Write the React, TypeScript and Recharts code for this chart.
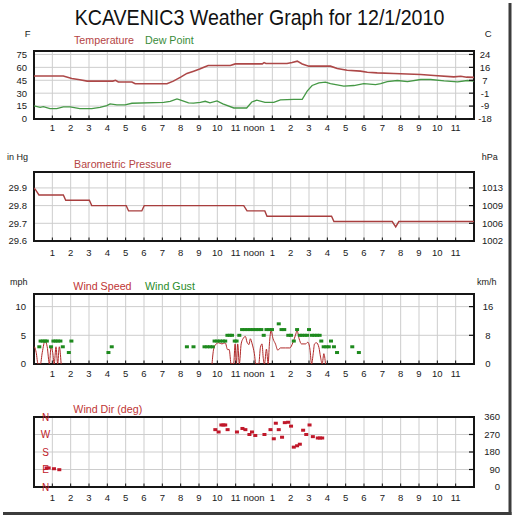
import React from 'react';
import { ComposedChart, Line, Scatter, XAxis, YAxis, CartesianGrid, ReferenceArea } from 'recharts';

const FONT = '"Liberation Sans", Arial, sans-serif';

// ---- axis ticks / labels ----
const hourTicks = [1, 2, 3, 4, 5, 6, 7, 8, 9, 10, 11, 12, 13, 14, 15, 16, 17, 18, 19, 20, 21, 22, 23];
const hourLabels = ['1', '2', '3', '4', '5', '6', '7', '8', '9', '10', '11', 'noon', '1', '2', '3', '4', '5', '6', '7', '8', '9', '10', '11'];

const fTicks = [0, 15, 30, 45, 60, 75];
const fLabels = ['0', '15', '30', '45', '60', '75'];
const cLabels = ['-18', '-9', '-1', '7', '16', '24'];

const inHgTicks = [29.6, 29.7, 29.8, 29.9];
const inHgLabels = ['29.6', '29.7', '29.8', '29.9'];
const hPaLabels = ['1002', '1006', '1009', '1013'];

const mphTicks = [0, 5, 10];
const mphLabels = ['0', '5', '10'];
const kmhLabels = ['0', '8', '16'];

const dirTicks = [0, 90, 180, 270, 360];
const dirLetters = ['N', 'E', 'S', 'W', 'N'];
const degLabels = ['0', '90', '180', '270', '360'];

// ---- series ----
const tempHours = [0, 1.6, 2.06, 2.5, 2.9, 4.3, 4.45, 4.6, 5.34, 5.52, 7.25, 7.6, 8.0, 8.34, 8.71, 9.07, 9.3, 9.5, 10.71, 10.98, 12.45, 12.55, 12.65, 13.8, 14.08, 14.36, 14.63, 14.99, 16.17, 16.54, 17.08, 17.81, 18.18, 18.72, 19.63, 21.09, 21.82, 22.9, 23.28, 23.6, 24];
const tempValues = [50, 50, 47, 45.5, 44, 44, 45, 43, 43, 41, 41, 44, 48.6, 53, 55.6, 58.3, 60.5, 62.2, 62.2, 64, 64, 65.5, 64.5, 64.5, 65.7, 67.2, 64, 61.4, 61.4, 58.7, 56.7, 55.6, 54.4, 53.6, 52.9, 51.7, 50.5, 49, 49.7, 48.6, 48.3];

const dewHours = [0, 0.33, 0.51, 0.87, 1.24, 1.6, 1.97, 2.5, 3.15, 3.6, 3.97, 4.15, 4.52, 4.97, 5.34, 7.07, 7.43, 7.8, 8.0, 8.43, 8.7, 9.07, 9.34, 9.6, 9.98, 10.3, 10.9, 11.6, 11.88, 12.15, 12.6, 13.08, 13.44, 14.17, 14.63, 14.9, 15.17, 15.54, 15.9, 16.17, 16.9, 17.45, 17.99, 18.63, 18.91, 19.27, 19.82, 20.37, 21.09, 21.64, 22.37, 23.1, 23.64, 24];
const dewValues = [15.2, 13.6, 14.4, 12, 12, 14, 14, 12, 12, 13.6, 15.5, 17.5, 16.3, 16.3, 18.3, 19.4, 20.6, 23.3, 22, 18.7, 18.5, 19.4, 20.6, 18.7, 21, 17.5, 12.8, 12.8, 19.8, 21.8, 19.4, 19.4, 22.2, 22.9, 22.9, 32.3, 38.9, 42, 42.8, 41.2, 38.1, 38.9, 41.2, 40, 41.2, 43.5, 44.7, 43.5, 45.9, 45.9, 44.3, 43.1, 44.7, 43.9];

const pressureHours = [0, 0.08, 0.27, 1.6, 1.73, 3.02, 3.15, 5.03, 5.16, 5.88, 6.01, 11.44, 11.62, 12.59, 12.71, 16.23, 16.36, 19.54, 19.73, 19.9, 24];
const pressureValues = [29.9, 29.89, 29.86, 29.86, 29.83, 29.83, 29.8, 29.8, 29.77, 29.77, 29.8, 29.8, 29.77, 29.77, 29.74, 29.74, 29.71, 29.71, 29.68, 29.71, 29.71];

const speedHours = [0.03, 0.12, 0.22, 0.35, 0.45, 0.6, 0.72, 0.84, 0.93, 1.02, 1.1, 1.2, 1.29, 1.38, 1.48, 5,
  9.71, 9.8, 9.94, 10.07, 10.25, 10.43, 10.56, 10.65, 10.75, 10.89, 10.97, 11.04, 11.11, 11.2, 11.3, 11.4, 11.53, 11.62, 11.73, 11.8, 11.9, 12.02, 12.1, 12.26, 12.35, 12.44, 12.5, 12.57, 12.68, 12.77, 12.84, 12.93, 13.04, 13.17, 13.3, 13.44, 13.72, 13.95, 14.13, 14.26, 14.35, 14.46, 14.59, 14.81, 14.94, 15.05, 15.14, 15.23, 15.3, 15.41, 15.54, 15.63, 15.72, 15.81, 15.9];
const speedValues = [3, 2, 0, 0, 2, 4, 3, 0, 3, 2, 0, 3, 0, 3, 0, null,
  0, 2.6, 3.5, 3.7, 3.5, 3.7, 2.5, 2.5, 0, 0, 3.5, 0, 3.5, 0, 3.5, 4.4, 4.8, 3.8, 3.4, 4.4, 3.5, 1.8, 0, 0, 2.9, 3.5, 1.2, 0, 2.6, 0, 3.5, 5.8, 4.4, 3.5, 2.4, 2.8, 2.8, 2.8, 3.8, 5.0, 5.8, 4.4, 3.5, 3.5, 3.8, 2.6, 0, 1.8, 3.5, 3.7, 2.9, 1.2, 0, 1.8, 0];

const gustHours = [0.29, 0.36, 0.48, 0.6, 0.7, 0.93, 1.06, 1.18, 1.3, 1.44, 1.57, 1.9, 2.04, 4.06, 4.24, 8.34, 8.7,
  9.3, 9.45, 9.6, 9.75, 9.85, 10.0, 10.15, 10.3, 10.43, 10.55, 10.68, 10.8, 10.95, 11.05, 11.2,
  11.35, 11.5, 11.65, 11.8, 11.95, 12.1, 12.25, 12.4, 12.53, 12.68, 12.83, 12.98, 13.35, 13.5, 13.65,
  13.87, 14.02, 14.17, 14.35, 14.5, 14.63, 14.77, 14.9, 15.0, 15.16, 15.3, 15.44, 15.58, 15.67,
  15.8, 15.95, 16.08, 16.2, 16.36, 16.53, 17.36, 17.72];
const gustValues = [3, 4, 4, 4, 4, 3, 4, 4, 4, 4, 3, 2, 4, 2, 3, 3, 3,
  3, 3, 3, 3, 4, 4, 4, 4, 4, 5, 5, 5, 4, 4, 5,
  6, 6, 6, 6, 6, 6, 6, 6, 5, 6, 6, 6, 7, 6, 6,
  5, 5, 4, 6, 5, 5, 5, 5, 6, 5, 5, 5, 5, 4,
  3, 3, 3, 4, 3, 2, 3, 2];

const dirHours = [0.69, 0.8, 1.09, 1.38, 9.89, 10.07, 10.22, 10.33, 10.43, 10.56, 11.07, 11.37, 11.53, 11.75, 11.89, 12.07, 12.57, 12.9, 13.08, 13.19, 13.35, 13.53, 13.68, 13.86, 14.02, 14.17, 14.35, 14.5, 14.68, 14.85, 15.03, 15.21, 15.48, 15.6, 15.72];
const dirValues = [98, 98, 94, 89, 295, 283, 319, 319, 319, 295, 283, 301, 295, 270, 283, 265, 270, 295, 248, 328, 295, 256, 331, 333, 313, 205, 212, 220, 292, 270, 319, 259, 252, 252, 252];

const zip = (hs: number[], vs: (number | null)[]) => hs.map((h, i) => ({ h, v: vs[i] }));
const tempData = zip(tempHours, tempValues);
const dewData = zip(dewHours, dewValues);
const pressureData = zip(pressureHours, pressureValues);
const speedData = zip(speedHours, speedValues);
const gustData = zip(gustHours, gustValues);
const dirData = zip(dirHours, dirValues);

const TICK_COLOR = '#1a1a1a';
const TOP_MARGIN = 10;

function makeBottomTick(margin: number) {
  return (props: any) => {
    const { x, y, payload } = props;
    const idx = hourTicks.indexOf(payload.value);
    const base = y - margin;
    return (
      <g>
        <line x1={x} x2={x} y1={base} y2={base - 3.5} stroke="#111" strokeWidth={1} />
        <text x={x} y={y} dy="0.71em" textAnchor="middle" fontSize={9.5} fontFamily={FONT} fill={TICK_COLOR}>
          {idx >= 0 ? hourLabels[idx] : ''}
        </text>
      </g>
    );
  };
}

function makeRightTick(ticks: number[], labels: string[], dx: number, anchor: string) {
  return (props: any) => {
    const { x, y, payload } = props;
    const idx = ticks.indexOf(payload.value);
    return (
      <g>
        <line x1={x - 5} x2={x} y1={y} y2={y} stroke="#111" strokeWidth={1.2} />
        <text x={x + dx} y={y} dy="0.355em" textAnchor={anchor} fontSize={9.5} fontFamily={FONT} fill={TICK_COLOR}>
          {idx >= 0 ? labels[idx] : ''}
        </text>
      </g>
    );
  };
}

function makeLeftTick(ticks: number[], labels: string[]) {
  return (props: any) => {
    const { x, y, payload } = props;
    const idx = ticks.indexOf(payload.value);
    return (
      <text x={x} y={y} dy="0.355em" textAnchor="end" fontSize={9.5} fontFamily={FONT} fill={TICK_COLOR}>
        {idx >= 0 ? labels[idx] : ''}
      </text>
    );
  };
}

function dirLeftTick(props: any) {
  const { x, y, payload } = props;
  const idx = dirTicks.indexOf(payload.value);
  return (
    <text x={x + 11.5} y={y} dy="0.355em" textAnchor="middle" fontSize={10} fontFamily={FONT} fill="#c0202a">
      {idx >= 0 ? dirLetters[idx] : ''}
    </text>
  );
}

type PanelProps = {
  top: number;
  plotH: number;
  tickMargin: number;
  domain: [number, number];
  yTicks: number[];
  leftTick: any;
  leftMargin: number;
  rightTick: any;
  children: React.ReactNode;
};

function Panel({ top, plotH, tickMargin, domain, yTicks, leftTick, leftMargin, rightTick, children }: PanelProps) {
  return (
    <div style={{ position: 'absolute', left: 0, top: top - TOP_MARGIN }}>
      <ComposedChart width={514} height={TOP_MARGIN + plotH + 20} margin={{ top: TOP_MARGIN, right: 0, bottom: 0, left: 0 }}>
        <CartesianGrid yAxisId="l" stroke="#cdcdcd" strokeWidth={1} />
        <XAxis
          dataKey="h"
          type="number"
          domain={[0, 24]}
          ticks={hourTicks}
          interval={0}
          height={20}
          tickSize={0}
          tickMargin={tickMargin}
          axisLine={false}
          tickLine={false}
          allowDataOverflow
          tick={makeBottomTick(tickMargin)}
        />
        <YAxis
          yAxisId="l"
          type="number"
          domain={domain}
          ticks={yTicks}
          interval={0}
          width={34}
          tickSize={0}
          tickMargin={leftMargin}
          axisLine={false}
          tickLine={false}
          allowDataOverflow
          tick={leftTick}
        />
        <YAxis
          yAxisId="r"
          orientation="right"
          type="number"
          domain={domain}
          ticks={yTicks}
          interval={0}
          width={40}
          tickSize={0}
          tickMargin={0}
          axisLine={false}
          tickLine={false}
          allowDataOverflow
          tick={rightTick}
        />
        {children}
        <ReferenceArea yAxisId="l" x1={0} x2={24} y1={domain[0]} y2={domain[1]} fill="none" stroke="#161616" strokeWidth={2} strokeOpacity={1} fillOpacity={0} />
      </ComposedChart>
    </div>
  );
}

const gustShape = (props: any) => <rect x={props.cx - 2} y={props.cy - 1.5} width={4} height={3} fill="#1e8a1e" />;
const dirShape = (props: any) => <rect x={props.cx - 2} y={props.cy - 1.5} width={4} height={3} fill="#c0182a" />;

const texts: { t: string; x: number; y: number; a: string; s: number; c: string }[] = [
  { t: 'F', x: 27.7, y: 36.7, a: 'middle', s: 9.5, c: '#1a1a1a' },
  { t: 'C', x: 488.3, y: 37, a: 'middle', s: 9.5, c: '#1a1a1a' },
  { t: 'Temperature', x: 74, y: 44.3, a: 'start', s: 10.7, c: '#b54545' },
  { t: 'Dew Point', x: 145, y: 44.3, a: 'start', s: 10.7, c: '#3a8c3a' },
  { t: 'in Hg', x: 7, y: 160, a: 'start', s: 9, c: '#1a1a1a' },
  { t: 'hPa', x: 481.7, y: 160, a: 'start', s: 9, c: '#1a1a1a' },
  { t: 'Barometric Pressure', x: 74, y: 167.5, a: 'start', s: 10.7, c: '#b54545' },
  { t: 'mph', x: 10, y: 285, a: 'start', s: 9, c: '#1a1a1a' },
  { t: 'km/h', x: 477, y: 285, a: 'start', s: 9, c: '#1a1a1a' },
  { t: 'Wind Speed', x: 73.3, y: 289.5, a: 'start', s: 10.7, c: '#c03535' },
  { t: 'Wind Gust', x: 145, y: 289.5, a: 'start', s: 10.7, c: '#2a8c2a' },
  { t: 'Wind Dir (deg)', x: 73.3, y: 412.7, a: 'start', s: 10.7, c: '#c03535' },
];

export default function App() {
  return (
    <div style={{ position: 'absolute', left: 0, top: 0, width: 514, height: 518, background: '#fff', overflow: 'hidden' }}>
      <Panel
        top={51}
        plotH={68}
        tickMargin={5}
        domain={[0, 79]}
        yTicks={fTicks}
        leftTick={makeLeftTick(fTicks, fLabels)}
        leftMargin={7}
        rightTick={makeRightTick(fTicks, cLabels, 11, 'middle')}
      >
        <Line yAxisId="l" data={dewData} dataKey="v" type="linear" stroke="#459845" strokeWidth={1.3} dot={false} activeDot={false} isAnimationActive={false} />
        <Line yAxisId="l" data={tempData} dataKey="v" type="linear" stroke="#ad4848" strokeWidth={1.6} dot={false} activeDot={false} isAnimationActive={false} />
      </Panel>
      <Panel
        top={172}
        plotH={69}
        tickMargin={8.5}
        domain={[29.6, 29.99]}
        yTicks={inHgTicks}
        leftTick={makeLeftTick(inHgTicks, inHgLabels)}
        leftMargin={7}
        rightTick={makeRightTick(inHgTicks, hPaLabels, 8, 'start')}
      >
        <Line yAxisId="l" data={pressureData} dataKey="v" type="linear" stroke="#a83e3e" strokeWidth={1.4} dot={false} activeDot={false} isAnimationActive={false} />
      </Panel>
      <Panel
        top={294}
        plotH={70}
        tickMargin={6.5}
        domain={[0, 12.2]}
        yTicks={mphTicks}
        leftTick={makeLeftTick(mphTicks, mphLabels)}
        leftMargin={8}
        rightTick={makeRightTick(mphTicks, kmhLabels, 14, 'middle')}
      >
        <Line yAxisId="l" data={speedData} dataKey="v" type="monotone" stroke="#b02828" strokeWidth={1} dot={false} activeDot={false} connectNulls={false} isAnimationActive={false} />
        <Scatter yAxisId="l" data={gustData} dataKey="v" shape={gustShape} isAnimationActive={false} />
      </Panel>
      <Panel
        top={417}
        plotH={70}
        tickMargin={7}
        domain={[0, 360]}
        yTicks={dirTicks}
        leftTick={dirLeftTick}
        leftMargin={0}
        rightTick={makeRightTick(dirTicks, degLabels, 26, 'end')}
      >
        <Scatter yAxisId="l" data={dirData} dataKey="v" shape={dirShape} isAnimationActive={false} />
      </Panel>
      <svg width={514} height={518} style={{ position: 'absolute', left: 0, top: 0, pointerEvents: 'none' }}>
        <text transform="translate(259.5,25) scale(1,1.16)" x={0} y={0} textAnchor="middle" fontSize={19.6} fontFamily={FONT} fill="#111">
          KCAVENIC3 Weather Graph for 12/1/2010
        </text>
        {texts.map((d, i) => (
          <text key={i} x={d.x} y={d.y} textAnchor={d.a as any} fontSize={d.s} fontFamily={FONT} fill={d.c}>
            {d.t}
          </text>
        ))}
        <rect x={508.5} y={3} width={3} height={512} fill="#3c3c3c" />
        <rect x={3} y={512} width={508.5} height={3} fill="#3c3c3c" />
      </svg>
    </div>
  );
}
